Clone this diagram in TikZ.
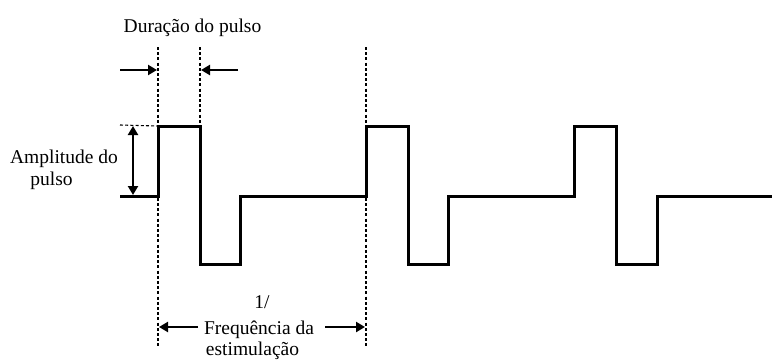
\documentclass[tikz,border=0pt]{standalone}
\usepackage{fontspec}
\setmainfont{Liberation Serif}
\usetikzlibrary{arrows.meta}
\begin{document}
\begin{tikzpicture}[x=1pt,y=-1pt,
  lbl/.style={inner sep=0pt,anchor=base,font=\fontsize{19.5}{22}\selectfont},
  wave/.style={line width=3pt,line join=miter},
  guide/.style={line width=1.1pt,dash pattern=on 3pt off 2.2pt},
  dimarrow/.style={line width=2.6pt,-{Triangle[length=9pt,width=10pt]}},
  dimboth/.style={line width=2.6pt,{Triangle[length=9pt,width=10pt]}-{Triangle[length=9pt,width=10pt]}}]
\useasboundingbox (0,0) rectangle (772,360);
% coordinates
\coordinate (w0) at (120,196);
\coordinate (r1) at (158,196);
\coordinate (t1) at (158,126);
\coordinate (f1) at (200,126);
\coordinate (b1) at (200,264);
\coordinate (u1) at (240,264);
\coordinate (s1) at (240,196);
\coordinate (r2) at (366,196);
\coordinate (w9) at (772,196);
% waveform
\draw[wave] (w0) -- (r1) |- (f1) |- (u1) |- (r2)
  |- (408,126) |- (448,264) |- (574,196) |- (616,126) |- (657,264) |- (w9);
% guides
\coordinate (g1a) at (158,47);
\coordinate (g1b) at (158,346);
\coordinate (g2a) at (200,47);
\coordinate (g3a) at (366,47);
\coordinate (g3b) at (366,346);
\coordinate (ha) at (120,125);
\draw[guide] (g1a) -- (g1b);
\draw[guide] (g2a) -- (f1);
\draw[guide] (g3a) -- (g3b);
\draw[guide] (ha) -- (t1);
% duration arrows
\coordinate (da) at (120,70);
\coordinate (db) at (157,70);
\coordinate (dc) at (238,70);
\coordinate (dd) at (201,70);
\draw[dimarrow] (da) -- (db);
\draw[dimarrow] (dc) -- (dd);
% amplitude arrow
\coordinate (aa) at (133,126);
\coordinate (ab) at (133,195);
\draw[dimboth] (aa) -- (ab);
% period arrows
\coordinate (pa) at (198,327);
\coordinate (pb) at (159,327);
\coordinate (pc) at (325,327);
\coordinate (pd) at (365,327);
\draw[dimarrow] (pa) -- (pb);
\draw[dimarrow] (pc) -- (pd);
% labels
\node[lbl] (dur) at (192.5,32) {Duração do pulso};
\node[lbl] (amp1) at (64,163) {Amplitude do};
\node[lbl] (amp2) at (51.5,185) {pulso};
\node[lbl] (f1t) at (262,308) {1/};
\node[lbl] (f2t) at (259,334) {Frequência da};
\node[lbl] (f3t) at (252.5,355) {estimulação};
\end{tikzpicture}
\end{document}
